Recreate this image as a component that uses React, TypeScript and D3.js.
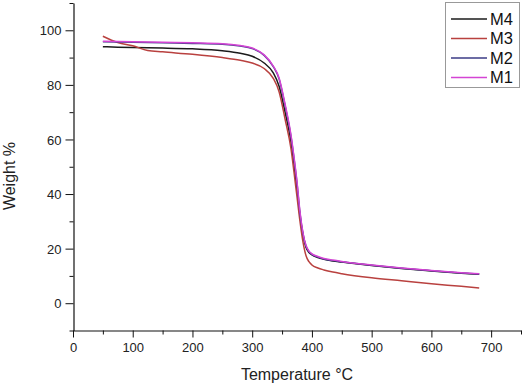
import React, { useEffect, useRef } from 'react';
import * as d3 from 'd3';

// temperatures (°C) where the curves were sampled
const temps = [50, 75, 100, 125, 150, 200, 250, 280, 300, 320, 335, 345, 355, 365, 370, 375, 380, 385, 390, 395, 400, 410, 420, 435, 450, 500, 550, 600, 650, 680];

const m4 = [94.0, 93.8, 93.7, 93.6, 93.5, 93.2, 92.5, 91.6, 90.5, 88.0, 84.5, 79.5, 70.0, 59.0, 51.0, 42.0, 32.0, 25.0, 20.5, 18.6, 17.7, 16.7, 16.1, 15.5, 15.1, 13.8, 12.7, 11.8, 11.0, 10.6];
const m3 = [97.8, 95.5, 94.3, 92.6, 92.1, 91.2, 90.0, 89.0, 88.0, 86.0, 82.5, 77.5, 67.5, 56.5, 48.0, 39.0, 30.0, 22.5, 17.5, 15.2, 14.0, 12.9, 12.2, 11.4, 10.8, 9.3, 8.2, 7.1, 6.2, 5.6];
const m2 = [95.8, 95.7, 95.6, 95.5, 95.4, 95.2, 94.9, 94.2, 93.3, 90.8, 86.8, 82.2, 72.5, 61.0, 53.0, 44.0, 33.0, 25.5, 21.0, 18.9, 17.9, 16.9, 16.2, 15.6, 15.2, 13.9, 12.8, 11.9, 11.1, 10.7];
const m1 = [96.0, 95.9, 95.8, 95.7, 95.6, 95.4, 95.1, 94.4, 93.5, 91.0, 87.0, 82.5, 73.0, 61.5, 53.5, 44.5, 33.5, 25.8, 21.2, 19.1, 18.1, 17.1, 16.4, 15.8, 15.3, 14.0, 12.9, 12.0, 11.2, 10.8];

const seriesNames = ['M4', 'M3', 'M2', 'M1'];
const seriesValues = [m4, m3, m2, m1];
const seriesColors = ['#1b1b1b', '#b9413f', '#3b3b86', '#d444d4'];

const xTicks = [0, 100, 200, 300, 400, 500, 600, 700];
const yTicks = [0, 20, 40, 60, 80, 100];

const FONT = '"Liberation Sans", Arial, sans-serif';

const TgaChart = () => {
  const svgRef = useRef<SVGSVGElement | null>(null);

  useEffect(() => {
    if (!svgRef.current) return;
    const svg = d3.select(svgRef.current);
    svg.selectAll('*').remove();

    const x = d3.scaleLinear().domain([0, 750]).range([73, 521]);
    const y = d3.scaleLinear().domain([-10, 110]).range([330.5, 3]);

    // x axis
    const gx = svg.append('g').attr('transform', 'translate(0,330.5)');
    gx.call(d3.axisBottom(x).tickValues(d3.range(0, 751, 50)).tickSize(4).tickSizeOuter(0).tickFormat(() => '') as any);
    gx.selectAll('.tick').filter((d: any) => d % 100 === 0).select('line').attr('y2', 7);
    gx.selectAll('.tick text').remove();
    gx.selectAll('.tick')
      .filter((d: any) => xTicks.includes(d))
      .append('text')
      .attr('y', 21)
      .attr('fill', '#222')
      .attr('text-anchor', 'middle')
      .attr('font-size', 13)
      .attr('font-family', FONT)
      .text((d: any) => d);

    // y axis
    const gy = svg.append('g').attr('transform', 'translate(73.5,0)');
    gy.call(d3.axisLeft(y).tickValues(d3.range(-10, 111, 10)).tickSize(4).tickSizeOuter(0).tickFormat(() => '') as any);
    gy.selectAll('.tick').filter((d: any) => d % 20 === 0).select('line').attr('x2', -8);
    gy.selectAll('.tick text').remove();
    gy.selectAll('.tick')
      .filter((d: any) => yTicks.includes(d))
      .append('text')
      .attr('x', -12)
      .attr('dy', '0.36em')
      .attr('fill', '#222')
      .attr('text-anchor', 'end')
      .attr('font-size', 13)
      .attr('font-family', FONT)
      .text((d: any) => d);

    svg.selectAll('.domain').attr('stroke', '#111').attr('stroke-width', 1.2);
    svg.selectAll('.tick line').attr('stroke', '#111');

    // titles
    svg.append('text')
      .attr('x', 297)
      .attr('y', 380)
      .attr('text-anchor', 'middle')
      .attr('font-size', 16)
      .attr('font-family', FONT)
      .attr('fill', '#222')
      .text('Temperature \u00B0C');

    svg.append('text')
      .attr('transform', 'translate(15,176) rotate(-90)')
      .attr('text-anchor', 'middle')
      .attr('font-size', 16)
      .attr('font-family', FONT)
      .attr('fill', '#222')
      .text('Weight %');

    // curves
    const line = d3.line<number>()
      .x((_, i) => x(temps[i]))
      .y(d => y(d))
      .curve(d3.curveMonotoneX);

    seriesValues.forEach((vals, i) => {
      svg.append('path')
        .attr('d', line(vals) as string)
        .attr('fill', 'none')
        .attr('stroke', seriesColors[i])
        .attr('stroke-width', 1.5);
    });

    // legend
    const lg = svg.append('g');
    lg.append('rect')
      .attr('x', 445.5)
      .attr('y', 2.5)
      .attr('width', 74)
      .attr('height', 85)
      .attr('fill', 'white')
      .attr('stroke', '#999');
    seriesNames.forEach((name, i) => {
      const yy = 19 + i * 19.5;
      lg.append('line')
        .attr('x1', 451).attr('x2', 487)
        .attr('y1', yy).attr('y2', yy)
        .attr('stroke', seriesColors[i])
        .attr('stroke-width', 1.5);
      lg.append('text')
        .attr('x', 490)
        .attr('y', yy)
        .attr('dy', '0.36em')
        .attr('font-size', 16.5)
        .attr('font-family', FONT)
        .attr('fill', '#111')
        .text(name);
    });
  }, []);

  return (
    <svg
      ref={svgRef}
      width={524}
      height={385}
      style={{ position: 'absolute', left: 0, top: 0, background: 'white' }}
    />
  );
};

export default function App() {
  return <TgaChart />;
}
